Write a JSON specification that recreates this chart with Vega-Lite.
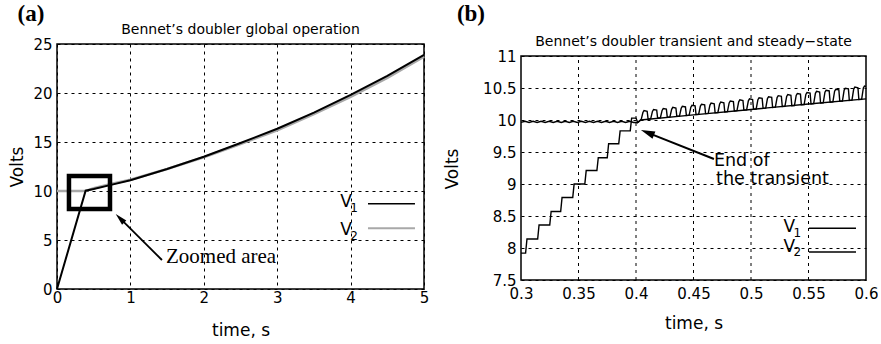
{
  "$schema": "https://vega.github.io/schema/vega-lite/v6.json",
  "background": "white",
  "padding": {"left": 8, "top": 2, "right": 0, "bottom": 0},
  "spacing": 14,
  "config": {
    "view": {"stroke": "black", "strokeWidth": 1.5},
    "axis": {
      "grid": true,
      "gridColor": "black",
      "gridDash": [3, 4],
      "gridWidth": 1,
      "domain": false,
      "ticks": false,
      "tickCount": 20,
      "labelFont": "DejaVu Sans",
      "labelFontSize": 15,
      "labelColor": "black",
      "labelPadding": 5,
      "labelOverlap": false,
      "labelFlush": false,
      "titleFont": "DejaVu Sans",
      "titleFontSize": 17,
      "titleFontWeight": "normal",
      "titleColor": "black"
    },
    "text": {"font": "DejaVu Sans", "color": "black"}
  },
  "datasets": {
    "note": [{}],
    "transientGrid": [{"t": 0.35}, {"t": 0.4}, {"t": 0.45}, {"t": 0.5}, {"t": 0.55}],
    "globalOp": [
      {"t": 0, "volts": 0, "trace": "V1"},
      {"t": 0.39, "volts": 10.03, "trace": "V1"},
      {"t": 0.5, "volts": 10.2, "trace": "V1"},
      {"t": 0.75, "volts": 10.65, "trace": "V1"},
      {"t": 1, "volts": 11.1, "trace": "V1"},
      {"t": 1.5, "volts": 12.25, "trace": "V1"},
      {"t": 2, "volts": 13.5, "trace": "V1"},
      {"t": 2.5, "volts": 14.9, "trace": "V1"},
      {"t": 3, "volts": 16.35, "trace": "V1"},
      {"t": 3.5, "volts": 18.0, "trace": "V1"},
      {"t": 4, "volts": 19.8, "trace": "V1"},
      {"t": 4.5, "volts": 21.75, "trace": "V1"},
      {"t": 5, "volts": 23.9, "trace": "V1"},
      {"t": 0, "volts": 10.0, "trace": "V2"},
      {"t": 0.39, "volts": 10.0, "trace": "V2"},
      {"t": 0.5, "volts": 10.28, "trace": "V2"},
      {"t": 0.75, "volts": 10.73, "trace": "V2"},
      {"t": 1, "volts": 11.15, "trace": "V2"},
      {"t": 1.5, "volts": 12.25, "trace": "V2"},
      {"t": 2, "volts": 13.45, "trace": "V2"},
      {"t": 2.5, "volts": 14.8, "trace": "V2"},
      {"t": 3, "volts": 16.2, "trace": "V2"},
      {"t": 3.5, "volts": 17.85, "trace": "V2"},
      {"t": 4, "volts": 19.6, "trace": "V2"},
      {"t": 4.5, "volts": 21.55, "trace": "V2"},
      {"t": 5, "volts": 23.7, "trace": "V2"}
    ],
    "transient": [
      {"t": 0.3, "volts": 7.92, "trace": "V1"},
      {"t": 0.304, "volts": 7.92, "trace": "V1"},
      {"t": 0.3052, "volts": 8.14, "trace": "V1"},
      {"t": 0.3145, "volts": 8.14, "trace": "V1"},
      {"t": 0.3157, "volts": 8.36, "trace": "V1"},
      {"t": 0.325, "volts": 8.36, "trace": "V1"},
      {"t": 0.3262, "volts": 8.57, "trace": "V1"},
      {"t": 0.3345, "volts": 8.57, "trace": "V1"},
      {"t": 0.3357, "volts": 8.79, "trace": "V1"},
      {"t": 0.345, "volts": 8.79, "trace": "V1"},
      {"t": 0.3462, "volts": 9.0, "trace": "V1"},
      {"t": 0.3555, "volts": 9.0, "trace": "V1"},
      {"t": 0.3567, "volts": 9.21, "trace": "V1"},
      {"t": 0.366, "volts": 9.21, "trace": "V1"},
      {"t": 0.3672, "volts": 9.41, "trace": "V1"},
      {"t": 0.375, "volts": 9.41, "trace": "V1"},
      {"t": 0.3762, "volts": 9.63, "trace": "V1"},
      {"t": 0.385, "volts": 9.63, "trace": "V1"},
      {"t": 0.3862, "volts": 9.83, "trace": "V1"},
      {"t": 0.395, "volts": 9.83, "trace": "V1"},
      {"t": 0.3962, "volts": 10.03, "trace": "V1"},
      {"t": 0.4, "volts": 10.03, "trace": "V1"},
      {"t": 0.4015, "volts": 9.96, "trace": "V1"},
      {"t": 0.404, "volts": 10.0, "trace": "V1"},
      {"t": 0.45, "volts": 10.08, "trace": "V1"},
      {"t": 0.5, "volts": 10.165, "trace": "V1"},
      {"t": 0.55, "volts": 10.25, "trace": "V1"},
      {"t": 0.6, "volts": 10.33, "trace": "V1"},

      {"t": 0.3, "volts": 9.962, "trace": "V2"},
      {"t": 0.3035, "volts": 9.98, "trace": "V2"},
      {"t": 0.307, "volts": 9.962, "trace": "V2"},
      {"t": 0.3105, "volts": 9.98, "trace": "V2"},
      {"t": 0.314, "volts": 9.962, "trace": "V2"},
      {"t": 0.3175, "volts": 9.98, "trace": "V2"},
      {"t": 0.321, "volts": 9.962, "trace": "V2"},
      {"t": 0.3245, "volts": 9.98, "trace": "V2"},
      {"t": 0.328, "volts": 9.962, "trace": "V2"},
      {"t": 0.3315, "volts": 9.98, "trace": "V2"},
      {"t": 0.335, "volts": 9.962, "trace": "V2"},
      {"t": 0.3385, "volts": 9.98, "trace": "V2"},
      {"t": 0.342, "volts": 9.962, "trace": "V2"},
      {"t": 0.3455, "volts": 9.98, "trace": "V2"},
      {"t": 0.349, "volts": 9.962, "trace": "V2"},
      {"t": 0.3525, "volts": 9.98, "trace": "V2"},
      {"t": 0.356, "volts": 9.962, "trace": "V2"},
      {"t": 0.3595, "volts": 9.98, "trace": "V2"},
      {"t": 0.363, "volts": 9.962, "trace": "V2"},
      {"t": 0.3665, "volts": 9.98, "trace": "V2"},
      {"t": 0.37, "volts": 9.962, "trace": "V2"},
      {"t": 0.3735, "volts": 9.98, "trace": "V2"},
      {"t": 0.377, "volts": 9.962, "trace": "V2"},
      {"t": 0.3805, "volts": 9.98, "trace": "V2"},
      {"t": 0.384, "volts": 9.962, "trace": "V2"},
      {"t": 0.3875, "volts": 9.98, "trace": "V2"},
      {"t": 0.391, "volts": 9.962, "trace": "V2"},
      {"t": 0.3945, "volts": 9.98, "trace": "V2"},
      {"t": 0.398, "volts": 9.962, "trace": "V2"},
      {"t": 0.4015, "volts": 9.96, "trace": "V2"},
      {"t": 0.4045, "volts": 10.007, "trace": "V2"},
      {"t": 0.406, "volts": 10.117, "trace": "V2"},
      {"t": 0.407, "volts": 10.147, "trace": "V2"},
      {"t": 0.4097, "volts": 10.137, "trace": "V2"},
      {"t": 0.4105, "volts": 10.017, "trace": "V2"},
      {"t": 0.4128, "volts": 10.021, "trace": "V2"},
      {"t": 0.4143, "volts": 10.134, "trace": "V2"},
      {"t": 0.4153, "volts": 10.164, "trace": "V2"},
      {"t": 0.418, "volts": 10.154, "trace": "V2"},
      {"t": 0.4188, "volts": 10.031, "trace": "V2"},
      {"t": 0.4212, "volts": 10.035, "trace": "V2"},
      {"t": 0.4227, "volts": 10.15, "trace": "V2"},
      {"t": 0.4237, "volts": 10.18, "trace": "V2"},
      {"t": 0.4264, "volts": 10.17, "trace": "V2"},
      {"t": 0.4272, "volts": 10.045, "trace": "V2"},
      {"t": 0.4295, "volts": 10.049, "trace": "V2"},
      {"t": 0.431, "volts": 10.167, "trace": "V2"},
      {"t": 0.432, "volts": 10.197, "trace": "V2"},
      {"t": 0.4347, "volts": 10.187, "trace": "V2"},
      {"t": 0.4355, "volts": 10.059, "trace": "V2"},
      {"t": 0.4378, "volts": 10.062, "trace": "V2"},
      {"t": 0.4393, "volts": 10.184, "trace": "V2"},
      {"t": 0.4403, "volts": 10.214, "trace": "V2"},
      {"t": 0.443, "volts": 10.204, "trace": "V2"},
      {"t": 0.4438, "volts": 10.072, "trace": "V2"},
      {"t": 0.4462, "volts": 10.076, "trace": "V2"},
      {"t": 0.4477, "volts": 10.2, "trace": "V2"},
      {"t": 0.4487, "volts": 10.23, "trace": "V2"},
      {"t": 0.4514, "volts": 10.22, "trace": "V2"},
      {"t": 0.4522, "volts": 10.086, "trace": "V2"},
      {"t": 0.4545, "volts": 10.09, "trace": "V2"},
      {"t": 0.456, "volts": 10.217, "trace": "V2"},
      {"t": 0.457, "volts": 10.247, "trace": "V2"},
      {"t": 0.4597, "volts": 10.237, "trace": "V2"},
      {"t": 0.4605, "volts": 10.1, "trace": "V2"},
      {"t": 0.4628, "volts": 10.104, "trace": "V2"},
      {"t": 0.4643, "volts": 10.234, "trace": "V2"},
      {"t": 0.4653, "volts": 10.264, "trace": "V2"},
      {"t": 0.468, "volts": 10.254, "trace": "V2"},
      {"t": 0.4688, "volts": 10.114, "trace": "V2"},
      {"t": 0.4712, "volts": 10.117, "trace": "V2"},
      {"t": 0.4727, "volts": 10.25, "trace": "V2"},
      {"t": 0.4737, "volts": 10.28, "trace": "V2"},
      {"t": 0.4764, "volts": 10.27, "trace": "V2"},
      {"t": 0.4772, "volts": 10.127, "trace": "V2"},
      {"t": 0.4795, "volts": 10.131, "trace": "V2"},
      {"t": 0.481, "volts": 10.267, "trace": "V2"},
      {"t": 0.482, "volts": 10.297, "trace": "V2"},
      {"t": 0.4847, "volts": 10.287, "trace": "V2"},
      {"t": 0.4855, "volts": 10.141, "trace": "V2"},
      {"t": 0.4878, "volts": 10.145, "trace": "V2"},
      {"t": 0.4893, "volts": 10.284, "trace": "V2"},
      {"t": 0.4903, "volts": 10.314, "trace": "V2"},
      {"t": 0.493, "volts": 10.304, "trace": "V2"},
      {"t": 0.4938, "volts": 10.155, "trace": "V2"},
      {"t": 0.4962, "volts": 10.159, "trace": "V2"},
      {"t": 0.4977, "volts": 10.3, "trace": "V2"},
      {"t": 0.4987, "volts": 10.33, "trace": "V2"},
      {"t": 0.5014, "volts": 10.32, "trace": "V2"},
      {"t": 0.5022, "volts": 10.169, "trace": "V2"},
      {"t": 0.5045, "volts": 10.172, "trace": "V2"},
      {"t": 0.506, "volts": 10.317, "trace": "V2"},
      {"t": 0.507, "volts": 10.347, "trace": "V2"},
      {"t": 0.5097, "volts": 10.337, "trace": "V2"},
      {"t": 0.5105, "volts": 10.182, "trace": "V2"},
      {"t": 0.5128, "volts": 10.186, "trace": "V2"},
      {"t": 0.5143, "volts": 10.334, "trace": "V2"},
      {"t": 0.5153, "volts": 10.364, "trace": "V2"},
      {"t": 0.518, "volts": 10.354, "trace": "V2"},
      {"t": 0.5188, "volts": 10.196, "trace": "V2"},
      {"t": 0.5212, "volts": 10.2, "trace": "V2"},
      {"t": 0.5227, "volts": 10.35, "trace": "V2"},
      {"t": 0.5237, "volts": 10.38, "trace": "V2"},
      {"t": 0.5264, "volts": 10.37, "trace": "V2"},
      {"t": 0.5272, "volts": 10.21, "trace": "V2"},
      {"t": 0.5295, "volts": 10.214, "trace": "V2"},
      {"t": 0.531, "volts": 10.367, "trace": "V2"},
      {"t": 0.532, "volts": 10.397, "trace": "V2"},
      {"t": 0.5347, "volts": 10.387, "trace": "V2"},
      {"t": 0.5355, "volts": 10.224, "trace": "V2"},
      {"t": 0.5378, "volts": 10.227, "trace": "V2"},
      {"t": 0.5393, "volts": 10.384, "trace": "V2"},
      {"t": 0.5403, "volts": 10.414, "trace": "V2"},
      {"t": 0.543, "volts": 10.404, "trace": "V2"},
      {"t": 0.5438, "volts": 10.237, "trace": "V2"},
      {"t": 0.5462, "volts": 10.241, "trace": "V2"},
      {"t": 0.5477, "volts": 10.4, "trace": "V2"},
      {"t": 0.5487, "volts": 10.43, "trace": "V2"},
      {"t": 0.5514, "volts": 10.42, "trace": "V2"},
      {"t": 0.5522, "volts": 10.251, "trace": "V2"},
      {"t": 0.5545, "volts": 10.255, "trace": "V2"},
      {"t": 0.556, "volts": 10.417, "trace": "V2"},
      {"t": 0.557, "volts": 10.447, "trace": "V2"},
      {"t": 0.5597, "volts": 10.437, "trace": "V2"},
      {"t": 0.5605, "volts": 10.265, "trace": "V2"},
      {"t": 0.5628, "volts": 10.269, "trace": "V2"},
      {"t": 0.5643, "volts": 10.434, "trace": "V2"},
      {"t": 0.5653, "volts": 10.464, "trace": "V2"},
      {"t": 0.568, "volts": 10.454, "trace": "V2"},
      {"t": 0.5688, "volts": 10.279, "trace": "V2"},
      {"t": 0.5712, "volts": 10.282, "trace": "V2"},
      {"t": 0.5727, "volts": 10.45, "trace": "V2"},
      {"t": 0.5737, "volts": 10.48, "trace": "V2"},
      {"t": 0.5764, "volts": 10.47, "trace": "V2"},
      {"t": 0.5772, "volts": 10.292, "trace": "V2"},
      {"t": 0.5795, "volts": 10.296, "trace": "V2"},
      {"t": 0.581, "volts": 10.467, "trace": "V2"},
      {"t": 0.582, "volts": 10.497, "trace": "V2"},
      {"t": 0.5847, "volts": 10.487, "trace": "V2"},
      {"t": 0.5855, "volts": 10.306, "trace": "V2"},
      {"t": 0.5878, "volts": 10.31, "trace": "V2"},
      {"t": 0.5893, "volts": 10.484, "trace": "V2"},
      {"t": 0.5903, "volts": 10.514, "trace": "V2"},
      {"t": 0.593, "volts": 10.504, "trace": "V2"},
      {"t": 0.5938, "volts": 10.32, "trace": "V2"},
      {"t": 0.5962, "volts": 10.324, "trace": "V2"},
      {"t": 0.5977, "volts": 10.5, "trace": "V2"},
      {"t": 0.5987, "volts": 10.53, "trace": "V2"},
      {"t": 0.6, "volts": 10.525, "trace": "V2"}
    ]
  },
  "hconcat": [
    {
      "width": 367,
      "height": 245,
      "layer": [
        {
          "data": {"name": "globalOp"},
          "transform": [{"filter": "datum.trace === 'V2'"}],
          "mark": {"type": "line", "color": "#a8a8a8", "strokeWidth": 2.6},
          "encoding": {
            "x": {
              "field": "t", "type": "quantitative",
              "scale": {"domain": [0, 5], "nice": false, "zero": false},
              "axis": {"title": "time, s", "values": [0, 1, 2, 3, 4, 5], "format": "d", "labelOverlap": false, "labelPadding": 1, "titlePadding": 17}
            },
            "y": {
              "field": "volts", "type": "quantitative",
              "scale": {"domain": [0, 25], "nice": false},
              "axis": {"title": "Volts", "values": [0, 5, 10, 15, 20, 25], "format": "d", "labelOverlap": false, "titlePadding": 6}
            }
          }
        },
        {
          "data": {"name": "globalOp"},
          "transform": [{"filter": "datum.trace === 'V1'"}],
          "mark": {"type": "line", "color": "black", "strokeWidth": 2},
          "encoding": {
            "x": {"field": "t", "type": "quantitative"},
            "y": {"field": "volts", "type": "quantitative"}
          }
        },
        {
          "data": {"name": "note"},
          "mark": {"type": "rect", "filled": false, "stroke": "black", "strokeWidth": 4.5},
          "encoding": {
            "x": {"datum": 0.163}, "x2": {"datum": 0.722},
            "y": {"datum": 8.16}, "y2": {"datum": 11.53}
          }
        },
        {
          "data": {"name": "note"},
          "mark": {"type": "rule", "color": "black", "strokeWidth": 1.8},
          "encoding": {
            "x": {"datum": 1.43}, "y": {"datum": 2.96},
            "x2": {"datum": 0.877}, "y2": {"datum": 7.07}
          }
        },
        {
          "data": {"name": "note"},
          "mark": {"type": "point", "shape": "M0,0L0.5,2L-0.5,2Z", "filled": true, "color": "black", "opacity": 1, "size": 144, "angle": 315},
          "encoding": {"x": {"datum": 0.8}, "y": {"datum": 7.65}}
        },
        {
          "data": {"name": "note"},
          "mark": {"type": "text", "text": "Zoomed area", "font": "Liberation Serif", "fontSize": 21, "align": "left", "baseline": "middle"},
          "encoding": {"x": {"datum": 1.485}, "y": {"datum": 3.27}}
        },
        {
          "data": {"name": "note"},
          "mark": {"type": "text", "text": "Bennet’s doubler global operation", "fontSize": 14, "align": "center", "baseline": "middle"},
          "encoding": {"x": {"datum": 2.5}, "y": {"datum": 26.43}}
        },
        {
          "data": {"name": "note"},
          "mark": {"type": "text", "text": "(a)", "font": "Liberation Serif", "fontWeight": "bold", "fontSize": 23, "align": "center", "baseline": "middle"},
          "encoding": {"x": {"datum": -0.354}, "y": {"datum": 28.06}}
        },
        {
          "data": {"name": "note"},
          "mark": {"type": "rule", "color": "black", "strokeWidth": 1.5},
          "encoding": {"x": {"datum": 4.237}, "x2": {"datum": 4.877}, "y": {"datum": 8.7}}
        },
        {
          "data": {"name": "note"},
          "mark": {"type": "rule", "color": "#a8a8a8", "strokeWidth": 2},
          "encoding": {"x": {"datum": 4.237}, "x2": {"datum": 4.877}, "y": {"datum": 6.19}}
        },
        {
          "data": {"name": "note"},
          "mark": {"type": "text", "text": "V", "fontSize": 17, "align": "center", "baseline": "middle"},
          "encoding": {"x": {"datum": 3.937}, "y": {"datum": 8.88}}
        },
        {
          "data": {"name": "note"},
          "mark": {"type": "text", "text": "1", "fontSize": 12, "align": "center", "baseline": "middle"},
          "encoding": {"x": {"datum": 4.046}, "y": {"datum": 8.3}}
        },
        {
          "data": {"name": "note"},
          "mark": {"type": "text", "text": "V", "fontSize": 17, "align": "center", "baseline": "middle"},
          "encoding": {"x": {"datum": 3.937}, "y": {"datum": 6.02}}
        },
        {
          "data": {"name": "note"},
          "mark": {"type": "text", "text": "2", "fontSize": 12, "align": "center", "baseline": "middle"},
          "encoding": {"x": {"datum": 4.046}, "y": {"datum": 5.44}}
        }
      ]
    },
    {
      "width": 345,
      "height": 236,
      "view": {"stroke": null},
      "layer": [
        {
          "data": {"name": "transientGrid"},
          "mark": {"type": "rule", "color": "black", "strokeWidth": 1, "strokeDash": [3, 4]},
          "encoding": {
            "x": {
              "field": "t", "type": "quantitative",
              "scale": {"domain": [0.3, 0.6], "nice": false, "zero": false},
              "axis": {"title": "time, s", "grid": false, "values": [0.3, 0.35, 0.4, 0.45, 0.5, 0.55, 0.6], "format": ".2~f", "labelOverlap": false, "labelPadding": 6, "titlePadding": 14}
            },
            "y": {
              "datum": 7.5, "type": "quantitative",
              "scale": {"domain": [7.5, 11], "range": [236, 12], "nice": false, "zero": false},
              "axis": {"title": null, "values": [7.5, 8, 8.5, 9, 9.5, 10, 10.5, 11], "labelExpr": "datum.value == floor(datum.value) ? format(datum.value, 'd') : format(datum.value, '.1f')", "labelOverlap": false}
            },
            "y2": {"datum": 11}
          }
        },
        {
          "data": {"name": "transient"},
          "transform": [{"filter": "datum.trace === 'V2'"}],
          "mark": {"type": "line", "color": "black", "strokeWidth": 1.4},
          "encoding": {
            "x": {"field": "t", "type": "quantitative"},
            "y": {"field": "volts", "type": "quantitative"}
          }
        },
        {
          "data": {"name": "transient"},
          "transform": [{"filter": "datum.trace === 'V1'"}],
          "mark": {"type": "line", "color": "black", "strokeWidth": 1.4},
          "encoding": {
            "x": {"field": "t", "type": "quantitative"},
            "y": {"field": "volts", "type": "quantitative"}
          }
        },
        {
          "data": {"name": "note"},
          "mark": {"type": "rect", "filled": false, "stroke": "black", "strokeWidth": 1.5},
          "encoding": {
            "x": {"datum": 0.3}, "x2": {"datum": 0.6},
            "y": {"datum": 7.5}, "y2": {"datum": 11}
          }
        },
        {
          "data": {"name": "note"},
          "mark": {"type": "text", "text": "Volts", "angle": 270, "fontSize": 17, "align": "center", "baseline": "middle"},
          "encoding": {"x": {"datum": 0.2409}, "y": {"datum": 9.234}}
        },
        {
          "data": {"name": "note"},
          "mark": {"type": "rule", "color": "black", "strokeWidth": 2},
          "encoding": {
            "x": {"datum": 0.4678}, "y": {"datum": 9.39},
            "x2": {"datum": 0.4116}, "y2": {"datum": 9.792}
          }
        },
        {
          "data": {"name": "note"},
          "mark": {"type": "point", "shape": "M0,0L0.55,2L-0.55,2Z", "filled": true, "color": "black", "opacity": 1, "size": 196, "angle": 291.7},
          "encoding": {"x": {"datum": 0.4043}, "y": {"datum": 9.844}}
        },
        {
          "data": {"name": "note"},
          "mark": {"type": "text", "text": "End of", "fontSize": 17.5, "align": "left", "baseline": "middle"},
          "encoding": {"x": {"datum": 0.4678}, "y": {"datum": 9.36}}
        },
        {
          "data": {"name": "note"},
          "mark": {"type": "text", "text": "the transient", "fontSize": 17.5, "align": "left", "baseline": "middle"},
          "encoding": {"x": {"datum": 0.4696}, "y": {"datum": 9.078}}
        },
        {
          "data": {"name": "note"},
          "mark": {"type": "text", "text": "Bennet’s doubler transient and steady−state", "fontSize": 14, "align": "center", "baseline": "middle"},
          "encoding": {"x": {"datum": 0.45}, "y": {"datum": 11.219}}
        },
        {
          "data": {"name": "note"},
          "mark": {"type": "text", "text": "(b)", "font": "Liberation Serif", "fontWeight": "bold", "fontSize": 23, "align": "center", "baseline": "middle"},
          "encoding": {"x": {"datum": 0.2565}, "y": {"datum": 11.656}}
        },
        {
          "data": {"name": "note"},
          "mark": {"type": "rule", "color": "black", "strokeWidth": 1.4},
          "encoding": {"x": {"datum": 0.5504}, "x2": {"datum": 0.5913}, "y": {"datum": 8.308}}
        },
        {
          "data": {"name": "note"},
          "mark": {"type": "rule", "color": "black", "strokeWidth": 1.4},
          "encoding": {"x": {"datum": 0.5504}, "x2": {"datum": 0.5913}, "y": {"datum": 7.9375}}
        },
        {
          "data": {"name": "note"},
          "mark": {"type": "text", "text": "V", "fontSize": 17, "align": "center", "baseline": "middle"},
          "encoding": {"x": {"datum": 0.5334}, "y": {"datum": 8.328}}
        },
        {
          "data": {"name": "note"},
          "mark": {"type": "text", "text": "1", "fontSize": 12, "align": "center", "baseline": "middle"},
          "encoding": {"x": {"datum": 0.5403}, "y": {"datum": 8.242}}
        },
        {
          "data": {"name": "note"},
          "mark": {"type": "text", "text": "V", "fontSize": 17, "align": "center", "baseline": "middle"},
          "encoding": {"x": {"datum": 0.5334}, "y": {"datum": 8.016}}
        },
        {
          "data": {"name": "note"},
          "mark": {"type": "text", "text": "2", "fontSize": 12, "align": "center", "baseline": "middle"},
          "encoding": {"x": {"datum": 0.5403}, "y": {"datum": 7.93}}
        }
      ]
    }
  ]
}
